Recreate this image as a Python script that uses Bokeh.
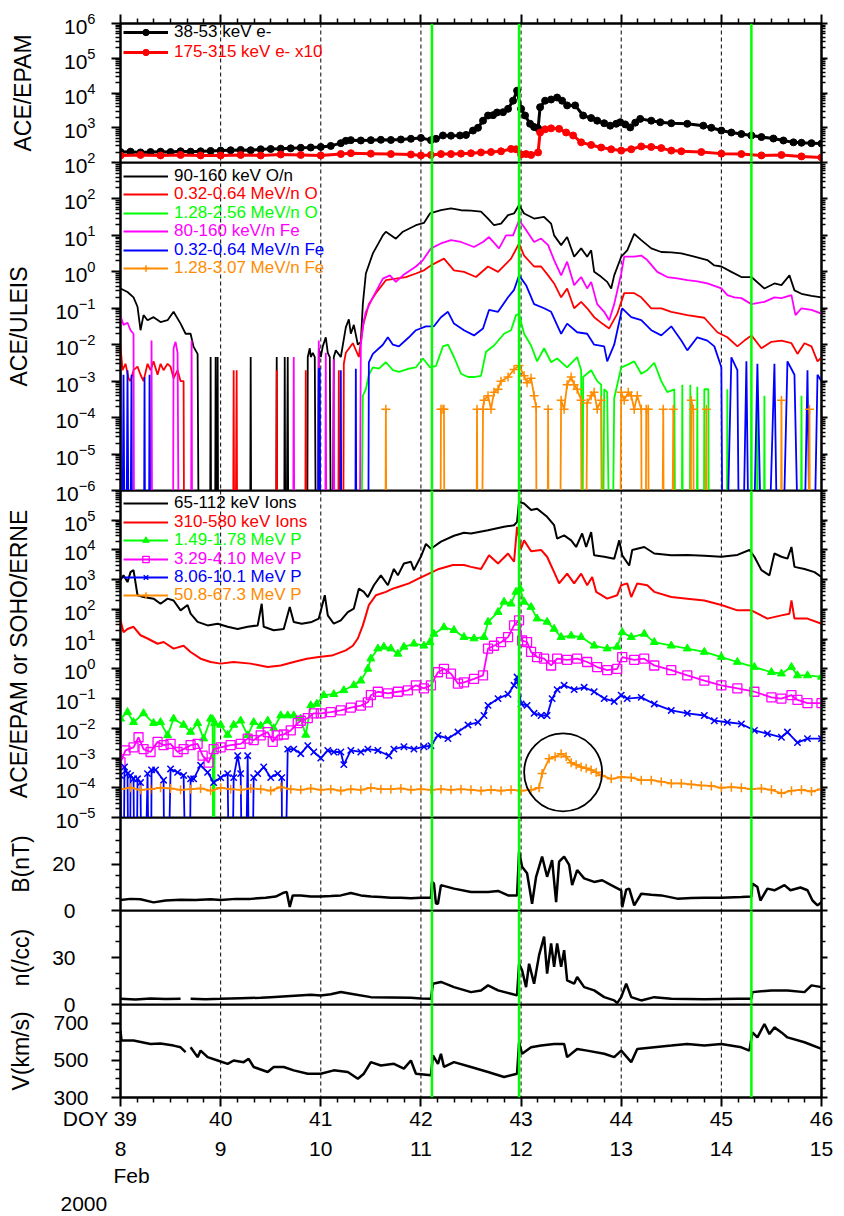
from bokeh.plotting import figure
from bokeh.layouts import column
from bokeh.models import (Range1d, LogAxis, LinearAxis, FixedTicker, Span, Legend,
                          LegendItem, Title, CustomJSTickFormatter)
from bokeh.embed import file_html
from bokeh.resources import INLINE

NAN = float("nan")

# ---------------- x axis / event markers ----------------
DOY_TICKS = [39, 40, 41, 42, 43, 44, 45, 46]
FEB_DATES = ["8", "9", "10", "11", "12", "13", "14", "15"]
DASHED_DAYS = [40, 41, 42, 43, 44, 45]
SHOCK_DOY = [42.11, 42.98, 45.30]

# ---------------- panel 1 : ACE/EPAM electrons ----------------
T1_E38 = [39.0, 39.1, 39.2, 39.3, 39.4, 39.5, 39.6, 39.7, 39.8, 39.9,
          40.0, 40.1, 40.2, 40.3, 40.4, 40.5, 40.6, 40.7, 40.8, 40.9,
          41.0, 41.1, 41.2, 41.25, 41.3, 41.4, 41.5, 41.6, 41.7, 41.8, 41.9, 42.0, 42.1,
          42.15, 42.22, 42.3, 42.39, 42.45, 42.52, 42.57, 42.62, 42.67, 42.72, 42.76, 42.82, 42.87, 42.92, 42.96,
          43.0, 43.04, 43.09, 43.13, 43.17, 43.19, 43.24, 43.3, 43.36, 43.41, 43.46, 43.54, 43.62, 43.7, 43.76,
          43.83, 43.89, 43.95, 43.99,
          44.04, 44.09, 44.14, 44.19, 44.3, 44.39, 44.5, 44.66, 44.82, 44.9,
          45.0, 45.1, 45.2, 45.3, 45.4, 45.52, 45.62, 45.72, 45.8, 45.9, 46.0]
V1_E38 = [200, 205, 195, 200, 205, 200, 210, 205, 210, 215,
          220, 225, 230, 225, 240, 245, 250, 255, 265, 270,
          280, 300, 360, 420, 440, 430, 440, 450, 445, 460, 480, 510, 440,
          480, 600, 590, 600, 620, 830, 1000, 1600, 2250, 2300, 2750, 2800, 3500, 6000, 11700,
          3500, 2250, 1300, 1050, 960, 3900, 6000, 6500, 7400, 6000, 4400, 4400, 2250, 1900, 1600,
          1350, 1150, 1300, 1440,
          1250, 1020, 1400, 1800, 1600, 1440, 1350, 1300, 1150, 1000,
          830, 730, 660, 600, 540, 490, 430, 380, 370, 360, 350]
T1_E175 = [39.0, 39.2, 39.4, 39.6, 39.8, 40.0, 40.2, 40.4, 40.6, 40.8,
           41.0, 41.2, 41.3, 41.5, 41.7, 41.9,
           42.0, 42.1, 42.2, 42.3, 42.4, 42.5, 42.6, 42.7, 42.8, 42.9, 42.95,
           43.0, 43.05, 43.1, 43.17, 43.19, 43.24, 43.3, 43.38, 43.45, 43.52, 43.6, 43.7, 43.8, 43.9,
           44.0, 44.1, 44.2, 44.3, 44.4, 44.5, 44.6, 44.8,
           45.0, 45.2, 45.4, 45.6, 45.8, 46.0]
V1_E175 = [160, 165, 160, 165, 160, 160, 165, 160, 170, 165,
           160, 175, 185, 180, 175, 170,
           160, 165, 175, 175, 180, 185, 195, 200, 210, 245, 240,
           170, 175, 165, 195, 730, 900, 960, 930, 730, 600, 380, 320, 270, 240,
           220, 240, 290, 280, 260, 220, 210, 200,
           180, 175, 160, 165, 150, 140]

# ---------------- panel 2 : ACE/ULEIS (0 = no counts) ----------------
T2_O90 = [39.00, 39.07, 39.13, 39.17, 39.20, 39.23, 39.27, 39.33, 39.40, 39.47, 39.53, 39.60, 39.65, 39.70, 39.73, 39.77, 39.79,
          39.89, 39.90, 39.91, 39.94, 39.95, 39.96, 39.97, 39.98,
          40.29, 40.30, 40.31, 40.55, 40.56, 40.57, 40.63, 40.64, 40.65, 40.67, 40.68,
          40.86, 40.87, 40.89, 40.90, 40.92, 40.94, 40.96, 40.98, 41.00, 41.02, 41.05, 41.07, 41.09, 41.11, 41.13, 41.15, 41.20, 41.25, 41.28, 41.30, 41.33, 41.37, 41.40,
          41.42, 41.45, 41.52, 41.62, 41.65, 41.75, 41.82, 41.95, 42.03, 42.09, 42.20, 42.30, 42.40, 42.50, 42.60, 42.67, 42.73, 42.80, 42.87, 42.93, 42.98,
          43.03, 43.13, 43.23, 43.30, 43.33, 43.40, 43.46, 43.53, 43.60, 43.66, 43.70, 43.73, 43.80, 43.86, 43.90, 43.93,
          44.00, 44.06, 44.13, 44.20, 44.30, 44.40, 44.50, 44.60, 44.73, 44.86, 44.93,
          45.00, 45.10, 45.20, 45.30, 45.43, 45.53, 45.60, 45.68, 45.73, 45.80, 45.90, 46.00]
V2_O90 = [0.35, 0.28, 0.2, 0.11, 0.025, 0.065, 0.047, 0.057, 0.042, 0.047, 0.08, 0.038, 0.02, 0.02, 0.0087, 0.0056, 0,
          0, 0.0046, 0, 0, 0.0046, 0, 0.0046, 0,
          0, 0.0046, 0, 0, 0.0046, 0, 0, 0.0046, 0, 0.0046, 0,
          0, 0.0046, 0.008, 0.0046, 0.006, 0.0046, 0, 0.008, 0.0046, 0.009, 0.016, 0.006, 0.0046, 0, 0.0046, 0.007, 0.0046, 0.03, 0.05, 0.02, 0.035, 0.01, 0.012,
          0.13, 0.9, 3.2, 10, 12.6, 8.1, 12.6, 19, 22, 40, 49, 55, 49, 48, 45, 29, 19, 21, 36, 40, 68,
          40, 29, 32, 21, 10, 5.4, 9, 2.6, 4.4, 2.6, 3.9, 1.0, 0.73, 0.53, 0.35, 0.8,
          2.6, 3.9, 11, 7.4, 4.4, 3.5, 3.4, 3.2, 2.6, 2.1, 1.5,
          1.4, 1.0, 0.72, 0.72, 0.35, 0.48, 0.43, 0.8, 0.31, 0.25, 0.22, 0.2]
T2_O320 = [39.00, 39.02, 39.05, 39.08, 39.10, 39.13, 39.17, 39.20, 39.23, 39.27, 39.30, 39.33, 39.37, 39.40, 39.43, 39.47, 39.50, 39.53, 39.57, 39.60, 39.63, 39.64,
           40.12, 40.13, 40.14, 40.16, 40.17, 40.55, 40.56, 40.57, 40.84, 40.85, 40.86, 41.17, 41.18, 41.19,
           41.22, 41.23, 41.25, 41.32, 41.38, 41.42, 41.48, 41.55, 41.65, 41.75, 41.85, 41.95, 42.03, 42.10, 42.23, 42.33, 42.43, 42.55, 42.67, 42.77, 42.90, 42.98,
           43.03, 43.13, 43.20, 43.27, 43.33, 43.40, 43.46, 43.53, 43.60, 43.66, 43.73, 43.81, 43.88, 43.96,
           44.03, 44.13, 44.20, 44.30, 44.40, 44.50, 44.66, 44.83, 44.96,
           45.06, 45.16, 45.23, 45.30, 45.40, 45.50, 45.60, 45.70, 45.76, 45.83, 45.90, 45.96, 46.00]
V2_O320 = [0.009, 0.002, 0.003, 0.0012, 0.001, 0.002, 0.0025, 0.0015, 0.001, 0.003, 0.002, 0.0035, 0.0015, 0.003, 0.002, 0.003, 0.0025, 0.0012, 0.002, 0.001, 0.001, 0,
           0, 0.002, 0, 0.002, 0, 0, 0.002, 0, 0, 0.002, 0, 0, 0.002, 0,
           0, 0.003, 0.006, 0.011, 0.0046, 0.032, 0.13, 0.26, 0.59, 0.65, 0.72, 0.9, 1.1, 1.5, 2.3, 1.1, 1.0, 0.72, 1.4, 1.0, 2.3, 6,
           2.8, 1.4, 1.4, 0.8, 0.48, 0.2, 0.35, 0.1, 0.15, 0.1, 0.057, 0.038, 0.028, 0.07,
           0.26, 0.26, 0.2, 0.1, 0.1, 0.08, 0.065, 0.055, 0.022,
           0.016, 0.009, 0.013, 0.018, 0.008, 0.012, 0.013, 0.011, 0.0056, 0.011, 0.009, 0.0035, 0.0045]
T2_O128 = [40.97, 40.98, 40.99, 41.39, 41.42, 41.45, 41.48, 41.52, 41.58, 41.65, 41.72, 41.78, 41.88, 41.95, 42.02, 42.09, 42.15, 42.22, 42.27, 42.33, 42.40, 42.47, 42.53, 42.60, 42.65, 42.73, 42.83, 42.90, 42.95, 42.98,
           43.03, 43.10, 43.16, 43.23, 43.30, 43.36, 43.46, 43.56, 43.60, 43.61, 43.62, 43.70, 43.76, 43.80, 43.81, 43.83, 43.86, 43.90, 43.93,
           44.00, 44.06, 44.13, 44.20, 44.26, 44.33, 44.40, 44.46, 44.53, 44.55,
           44.60, 44.61, 44.62, 44.68, 44.69, 44.70, 44.75, 44.76, 44.77, 44.82, 44.83, 44.87, 44.88,
           45.05, 45.06, 45.07, 45.35, 45.36, 45.37, 45.42, 45.43, 45.44, 45.79, 45.80, 45.81]
V2_O128 = [0, 0.0005, 0, 0, 0.0004, 0.0006, 0.0015, 0.0024, 0.0022, 0.0033, 0.002, 0.0018, 0.0022, 0.0024, 0.0042, 0.0024, 0.0026, 0.009, 0.01, 0.0046, 0.0016, 0.0013, 0.0013, 0.0014, 0.0064, 0.0095, 0.02, 0.025, 0.065, 0.07,
           0.02, 0.0095, 0.0035, 0.008, 0.0033, 0.0042, 0.0024, 0.0046, 0.002, 0, 0.0013, 0.002, 0.001, 0.0008, 0, 0.0006, 0.0005, 0, 0.00034,
           0.0024, 0.0028, 0.0035, 0.0016, 0.002, 0.0032, 0.001, 0.0005, 0.0006, 0,
           0, 0.0008, 0, 0, 0.0008, 0, 0, 0.0007, 0, 0, 0.0006, 0.0006, 0,
           0, 0.0006, 0, 0, 0.0004, 0, 0, 0.0004, 0, 0, 0.0004, 0]
T2_FE80 = [39.00, 39.03, 39.07, 39.10, 39.13, 39.14, 39.30, 39.31, 39.32, 39.52, 39.53, 39.55, 39.57, 39.59, 39.70, 39.71, 39.72,
           40.72, 40.73, 40.74, 40.97, 40.98, 40.99, 41.04, 41.05, 41.06, 41.12, 41.13, 41.14,
           41.38, 41.40, 41.43, 41.45, 41.52, 41.62, 41.69, 41.75, 41.82, 41.95, 42.02, 42.10, 42.20, 42.30, 42.40, 42.53, 42.62, 42.68, 42.78, 42.85, 42.92, 42.98,
           43.03, 43.13, 43.20, 43.27, 43.33, 43.40, 43.46, 43.53, 43.60, 43.66, 43.70, 43.76, 43.83, 43.88, 43.93,
           44.00, 44.03, 44.13, 44.20, 44.26, 44.36, 44.46, 44.56, 44.66, 44.76, 44.86,
           45.00, 45.06, 45.13, 45.20, 45.30, 45.43, 45.53, 45.60, 45.70, 45.74, 45.80, 45.90, 46.00]
V2_FE80 = [0.06, 0.035, 0.04, 0.025, 0.02, 0, 0, 0.013, 0, 0, 0.008, 0.012, 0.006, 0, 0, 0.013, 0,
           0, 0.0046, 0, 0, 0.013, 0, 0, 0.006, 0, 0, 0.004, 0,
           0, 0.01, 0.047, 0.08, 0.2, 0.65, 0.8, 0.53, 0.8, 1.4, 2.1, 4.4, 6, 7.4, 6.6, 4.8, 6.6, 9, 4.4, 10, 10, 26,
           17, 6.6, 8.2, 5.4, 2.1, 0.8, 1.9, 0.43, 0.72, 0.35, 0.53, 0.13, 0.08, 0.047, 0.13,
           0.9, 2.6, 2.6, 2.8, 2.1, 1.0, 0.72, 0.66, 0.59, 0.55, 0.48,
           0.35, 0.23, 0.2, 0.19, 0.13, 0.15, 0.2, 0.19, 0.23, 0.065, 0.1, 0.09, 0.071]
T2_FE320 = [39.00, 39.01, 39.03, 39.05, 39.07, 39.09, 39.11, 39.12, 39.23, 39.24, 39.25, 39.28, 39.29, 39.30,
            40.97, 40.98, 40.99, 41.00, 41.19, 41.20, 41.21, 41.34, 41.35, 41.36,
            41.47, 41.48, 41.52, 41.62, 41.67, 41.72, 41.78, 41.88, 41.95, 42.05, 42.13, 42.20, 42.27, 42.33, 42.43, 42.53, 42.62, 42.68, 42.77, 42.87, 42.93, 42.98,
            43.05, 43.13, 43.23, 43.30, 43.40, 43.46, 43.56, 43.66, 43.73, 43.83, 43.86, 43.93,
            44.01, 44.10, 44.20, 44.30, 44.40, 44.50, 44.60, 44.66, 44.76, 44.86, 44.93,
            45.00, 45.02, 45.10, 45.16, 45.19, 45.25, 45.29, 45.36, 45.43, 45.53, 45.58, 45.66, 45.73, 45.80, 45.86, 45.90, 45.96, 46.00]
V2_FE320 = [0.002, 0, 0.0015, 0, 0.002, 0, 0.0015, 0, 0, 0.0013, 0, 0, 0.0015, 0,
            0, 0.0022, 0.0022, 0, 0, 0.002, 0, 0, 0.0022, 0,
            0, 0.0033, 0.0056, 0.01, 0.016, 0.01, 0.009, 0.016, 0.025, 0.032, 0.032, 0.057, 0.08, 0.038, 0.025, 0.018, 0.028, 0.09, 0.08, 0.2, 0.32, 0.8,
            0.43, 0.13, 0.1, 0.08, 0.02, 0.038, 0.022, 0.02, 0.01, 0.009, 0.0035, 0.01,
            0.1, 0.057, 0.047, 0.025, 0.018, 0.032, 0.013, 0.007, 0.016, 0.013, 0.009,
            0.0024, 0, 0.0045, 0.002, 0, 0.0035, 0, 0.003, 0, 0.003, 0, 0.0035, 0.0015, 0, 0.002, 0, 0.0015, 0.001]
T2_FE128 = [41.64, 41.65, 41.66, 42.19, 42.20, 42.22, 42.23, 42.24, 42.55, 42.56, 42.57,
            42.60, 42.62, 42.63, 42.67, 42.70, 42.73, 42.77, 42.80, 42.87, 42.93, 42.98, 43.03, 43.06, 43.10, 43.13, 43.15, 43.16,
            43.26, 43.27, 43.28, 43.38, 43.40, 43.43, 43.46, 43.50, 43.53, 43.56, 43.60, 43.62,
            43.64, 43.66, 43.70, 43.73, 43.76, 43.80, 43.83,
            43.98, 44.00, 44.03, 44.07, 44.10, 44.13, 44.16, 44.20, 44.21,
            44.24, 44.25, 44.27, 44.28, 44.40, 44.42, 44.43, 44.50, 44.52, 44.53, 44.68, 44.70, 44.72, 44.73, 44.83, 44.85, 44.86,
            45.59, 45.60, 45.61, 45.86, 45.88, 45.89]
V2_FE128 = [0, 0.00017, 0, 0, 0.00017, 0.00017, 0.00017, 0, 0, 0.00017, 0,
            0, 0.00017, 0.0003, 0.0004, 0.00017, 0.0005, 0.0006, 0.001, 0.0013, 0.0021, 0.0027, 0.0014, 0.0009, 0.0012, 0.0004, 0.0002, 0,
            0, 0.00017, 0, 0, 0.0003, 0.00017, 0.0008, 0.0013, 0.0008, 0.0006, 0.0003, 0,
            0, 0.00025, 0.0004, 0.0005, 0.00017, 0.0003, 0,
            0, 0.0005, 0.0003, 0.0005, 0.0004, 0.00017, 0.0004, 0.00017, 0,
            0, 0.00017, 0.00017, 0, 0, 0.00017, 0, 0, 0.00017, 0, 0, 0.0003, 0.00017, 0, 0, 0.00017, 0,
            0, 0.0003, 0, 0, 0.00017, 0]

# ---------------- panel 3 : ACE/EPAM ions, SOHO/ERNE protons ----------------
T3_I65 = [39.0, 39.03, 39.07, 39.1, 39.13, 39.17, 39.23, 39.33, 39.4, 39.47, 39.53, 39.6, 39.67, 39.7, 39.77, 39.87, 39.97,
          40.07, 40.17, 40.27, 40.37, 40.41, 40.43, 40.53, 40.63, 40.69, 40.73, 40.81, 40.91, 40.98,
          41.04, 41.07, 41.13, 41.2, 41.27, 41.33, 41.38, 41.43, 41.47, 41.53, 41.6, 41.67, 41.73, 41.77, 41.83, 41.9, 41.93,
          42.0, 42.05, 42.1, 42.2, 42.33, 42.43, 42.5, 42.67, 42.83, 42.93, 42.96, 42.98,
          43.03, 43.1, 43.16, 43.26, 43.33, 43.36, 43.43, 43.5, 43.55, 43.61, 43.65, 43.7, 43.73, 43.83, 43.93, 43.98,
          44.01, 44.08, 44.11, 44.23, 44.33, 44.5, 44.66, 44.83,
          45.0, 45.16, 45.28, 45.33, 45.4, 45.48, 45.53, 45.6, 45.66, 45.7, 45.73, 45.83, 45.93, 46.0]
V3_I65 = [950, 1400, 830, 1800, 2100, 300, 260, 230, 155, 230, 200, 93, 140, 72, 38, 29, 33,
          26, 22, 26, 29, 155, 26, 20, 22, 120, 38, 33, 38, 49,
          300, 63, 33, 43, 81, 107, 500, 390, 260, 650, 1400, 650, 2300, 1400, 3500, 4000, 2100,
          6000, 16000, 11000, 19000, 30000, 38000, 36000, 46000, 60000, 68000, 88000, 420000,
          365000, 220000, 245000, 130000, 68000, 24000, 31000, 21000, 12600, 36000, 12600, 40000, 6600, 5900, 5100, 21000,
          6600, 3000, 10000, 12600, 7600, 6600, 6800, 6400,
          5900, 6800, 10000, 5900, 2100, 1400, 7600, 5900, 5100, 12600, 2700, 2300, 1800, 1230]
T3_I310 = [39.0, 39.03, 39.07, 39.13, 39.2, 39.27, 39.37, 39.43, 39.53, 39.63, 39.7, 39.8, 39.9,
           40.0, 40.13, 40.3, 40.47, 40.6, 40.73, 40.86, 40.98,
           41.11, 41.25, 41.32, 41.37, 41.42, 41.45, 41.48, 41.55, 41.65, 41.72, 41.78, 41.88, 41.98,
           42.08, 42.18, 42.32, 42.43, 42.5, 42.6, 42.68, 42.77, 42.87, 42.93, 42.96,
           43.0, 43.03, 43.1, 43.2, 43.26, 43.33, 43.38, 43.46, 43.53, 43.6, 43.66, 43.71, 43.75, 43.86, 43.96,
           44.0, 44.06, 44.1, 44.16, 44.26, 44.33, 44.5, 44.66, 44.83,
           45.0, 45.16, 45.3, 45.46, 45.6, 45.68, 45.7, 45.73, 45.86, 46.0]
V3_I310 = [43, 17, 22, 26, 13.5, 10.5, 7, 8, 4.8, 6, 3.7, 2.2, 1.7,
           1.5, 1.7, 1.5, 1.15, 1.3, 1.7, 2.2, 2.5,
           2.8, 4.2, 6, 10.5, 29, 63, 140, 300, 390, 500, 580, 750, 1100,
           1600, 2300, 3100, 3100, 2700, 2300, 6600, 3500, 7600, 4000, 60000,
           11000, 21000, 9000, 10000, 5900, 1800, 750, 1600, 750, 1600, 650, 1230, 390, 230, 300,
           650, 750, 260, 750, 650, 390, 260, 230, 200,
           140, 93, 93, 49, 63, 72, 200, 49, 49, 33]
T3_P149 = [39.0, 39.07, 39.13, 39.23, 39.33, 39.4, 39.47, 39.53, 39.63, 39.7, 39.77, 39.83, 39.9, 39.92, 39.93, 39.94,
           40.0, 40.07, 40.13, 40.2, 40.27, 40.33, 40.4, 40.47, 40.53, 40.6, 40.67, 40.73, 40.8, 40.85, 40.9, 40.96,
           41.03, 41.13, 41.23, 41.33, 41.4, 41.47, 41.5, 41.57, 41.63, 41.7, 41.77, 41.83, 41.93,
           42.03, 42.09, 42.13, 42.23, 42.33, 42.43, 42.53, 42.63, 42.67, 42.77, 42.83, 42.9, 42.95, 42.99,
           43.03, 43.1, 43.16, 43.26, 43.33, 43.4, 43.5, 43.6, 43.73, 43.86, 43.96,
           44.01, 44.1, 44.23, 44.33, 44.5, 44.66, 44.83,
           45.0, 45.16, 45.33, 45.5, 45.6, 45.7, 45.76, 45.86, 46.0]
V3_P149 = [0.021, 0.035, 0.016, 0.032, 0.015, 0.016, 0.0058, 0.021, 0.013, 0.0075, 0.015, 0.0045, 0.021, 0.02, 0, 0.015,
           0.013, 0.006, 0.013, 0.018, 0.0058, 0.016, 0.012, 0.018, 0.01, 0.027, 0.027, 0.027, 0.021, 0.006, 0.059, 0.066,
           0.13, 0.14, 0.19, 0.28, 0.4, 1.0, 2.2, 4.8, 5.5, 4.8, 3.2, 5.5, 7,
           6, 7.9, 15, 25, 20, 11.7, 10.5, 11.7, 38, 81, 180, 155, 390, 500,
           180, 120, 49, 38, 22, 11.7, 13, 11.7, 6, 4.8, 5.5,
           17, 11.7, 15, 7.9, 6, 4.8, 3.7,
           2.5, 1.7, 1.15, 0.77, 0.69, 1.15, 0.6, 0.6, 0.54]
T3_P329 = [39.0, 39.05, 39.13, 39.18, 39.23, 39.3, 39.37, 39.43, 39.5, 39.57, 39.63, 39.7, 39.77, 39.82, 39.88, 39.93,
           40.0, 40.1, 40.2, 40.27, 40.33, 40.4, 40.47, 40.52, 40.57, 40.63, 40.7, 40.77, 40.8, 40.87, 40.93,
           41.0, 41.1, 41.2, 41.3, 41.4, 41.47, 41.5, 41.57, 41.67, 41.77, 41.87, 41.95,
           42.03, 42.1, 42.17, 42.23, 42.3, 42.37, 42.43, 42.53, 42.62, 42.67, 42.73, 42.8, 42.87, 42.93, 42.98,
           43.01, 43.06, 43.1, 43.16, 43.23, 43.3, 43.36, 43.46, 43.56, 43.66, 43.76, 43.86, 43.96,
           44.01, 44.13, 44.23, 44.33, 44.5, 44.66, 44.83,
           45.0, 45.16, 45.33, 45.5, 45.6, 45.7, 45.76, 45.86, 46.0]
V3_P329 = [0.00072, 0.0018, 0.0023, 0.005, 0.002, 0.0016, 0.0035, 0.0027, 0.003, 0.0016, 0.002, 0.0027, 0.003, 0.0012, 0.0007, 0.002,
           0.0023, 0.0027, 0.003, 0.0045, 0.004, 0.0058, 0.0075, 0.0035, 0.0058, 0.0062, 0.0085, 0.015, 0.018, 0.022, 0.032,
           0.032, 0.035, 0.04, 0.05, 0.058, 0.075, 0.13, 0.17, 0.15, 0.17, 0.19, 0.28,
           0.22, 0.28, 0.77, 1.0, 0.69, 0.32, 0.35, 0.46, 0.6, 4.8, 6, 7.9, 11.7, 29, 43,
           9, 7.9, 3.7, 2.5, 2.2, 1.3, 2.2, 2.0, 2.2, 1.7, 1.15, 0.9, 1.0,
           2.5, 2.0, 2.2, 1.3, 0.9, 0.6, 0.4,
           0.28, 0.22, 0.17, 0.11, 0.1, 0.13, 0.09, 0.07, 0.07]
T3_P806 = [39.0, 39.02, 39.04, 39.07, 39.09, 39.1, 39.13, 39.15, 39.17, 39.2, 39.22, 39.27, 39.3, 39.31, 39.35, 39.43, 39.45,
           39.5, 39.57, 39.63, 39.68, 39.7, 39.73, 39.8, 39.87, 39.93,
           40.0, 40.07, 40.1, 40.13, 40.17, 40.2, 40.23, 40.27, 40.3, 40.33, 40.37, 40.43, 40.5, 40.57, 40.61, 40.62,
           40.67, 40.73, 40.8, 40.87, 40.93, 41.0, 41.07, 41.13, 41.2, 41.23, 41.3, 41.4, 41.47, 41.57, 41.68, 41.73, 41.83, 41.93,
           42.03, 42.1, 42.17, 42.27, 42.37, 42.47, 42.57, 42.63, 42.67, 42.77, 42.87, 42.93, 42.96,
           43.0, 43.06, 43.13, 43.2, 43.26, 43.31, 43.36, 43.43, 43.53, 43.63, 43.73, 43.83, 43.93,
           44.0, 44.06, 44.2, 44.33, 44.5, 44.66, 44.83, 44.93,
           45.06, 45.2, 45.33, 45.46, 45.6, 45.66, 45.76, 45.86, 46.0]
V3_P806 = [0.00026, 0, 0.0005, 0.0003, 0, 0.00026, 0.0002, 0, 0.0002, 0.00015, 0, 0.0003, 0, 0.0004, 0.0004, 0.00018, 0,
           0.00043, 0.00033, 0.00026, 0, 0.0002, 0.0002, 0.00057, 0.00033, 0.00015,
           0.00022, 0.0003, 0, 0.00022, 0.0012, 0.0003, 0, 0.0012, 0, 0.00022, 0.0003, 0.0005, 0.00022, 0.0003, 0.00022, 0,
           0.002, 0.002, 0.0014, 0.0026, 0.0016, 0.001, 0.0018, 0.0016, 0.0016, 0.0006, 0.0018, 0.0016, 0.002, 0.0018, 0.0012, 0.002, 0.0024, 0.002,
           0.0024, 0.0026, 0.0058, 0.0045, 0.0075, 0.013, 0.016, 0.027, 0.059, 0.1, 0.14, 0.28, 0.53,
           0.066, 0.059, 0.032, 0.027, 0.027, 0.1, 0.2, 0.28, 0.2, 0.24, 0.17, 0.1, 0.08,
           0.13, 0.1, 0.11, 0.066, 0.04, 0.032, 0.027, 0.018,
           0.016, 0.014, 0.0085, 0.0066, 0.005, 0.0075, 0.0033, 0.0045, 0.0045]
T3_P508 = [39.0, 39.1, 39.2, 39.3, 39.4, 39.5, 39.6, 39.7, 39.8, 39.9,
           40.0, 40.1, 40.2, 40.3, 40.4, 40.5, 40.6, 40.7, 40.8, 40.9,
           41.0, 41.1, 41.2, 41.3, 41.4, 41.5, 41.6, 41.7, 41.8, 41.9,
           42.0, 42.1, 42.2, 42.3, 42.4, 42.5, 42.6, 42.7, 42.8, 42.9,
           43.0, 43.1, 43.18, 43.21, 43.28, 43.34, 43.4, 43.45, 43.5, 43.55, 43.6, 43.65, 43.7, 43.75, 43.8, 43.9,
           44.0, 44.1, 44.2, 44.3, 44.4, 44.5, 44.6, 44.7, 44.8, 44.9,
           45.0, 45.1, 45.2, 45.3, 45.4, 45.5, 45.6, 45.7, 45.8, 45.9, 46.0]
V3_P508 = [9e-5, 1e-4, 8.5e-5, 9e-5, 1e-4, 9.5e-5, 8.5e-5, 9e-5, 9.5e-5, 8e-5,
           1e-4, 9e-5, 8.5e-5, 9.5e-5, 9e-5, 8e-5, 1.05e-4, 9e-5, 8.5e-5, 9.5e-5,
           8.5e-5, 9e-5, 8e-5, 9e-5, 8.5e-5, 1e-4, 9e-5, 9e-5, 9.5e-5, 8.5e-5,
           9e-5, 8.5e-5, 9e-5, 8.5e-5, 9e-5, 8.5e-5, 8e-5, 8.5e-5, 8e-5, 8.5e-5,
           8e-5, 8.5e-5, 1e-4, 3e-4, 9.5e-4, 1.1e-3, 1.4e-3, 1.1e-3, 7e-4, 6e-4, 5e-4, 4.5e-4, 4e-4, 3.3e-4, 2.6e-4, 2e-4,
           2.3e-4, 2.2e-4, 1.8e-4, 1.8e-4, 1.6e-4, 1.4e-4, 1.4e-4, 1.3e-4, 1.2e-4, 1.15e-4,
           1e-4, 1.05e-4, 1e-4, 9e-5, 9.5e-5, 8.5e-5, 6.5e-5, 8e-5, 8.5e-5, 7.5e-5, 9e-5]
CIRCLE_T = [43.42]
CIRCLE_V = [3.3e-4]

# ---------------- panels 4-6 : solar wind ----------------
T4_B = [39.0, 39.1, 39.2, 39.33, 39.45, 39.6, 39.75, 39.9, 40.0, 40.15, 40.3, 40.45, 40.55, 40.62, 40.66, 40.69, 40.72, 40.8, 40.9,
        41.0, 41.1, 41.2, 41.3, 41.4, 41.5, 41.6, 41.7, 41.8, 41.9, 42.0, 42.1, 42.11, 42.13, 42.15, 42.17, 42.2, 42.33, 42.5,
        42.67, 42.77, 42.87, 42.96, 42.98, 43.01, 43.06, 43.11, 43.15, 43.21, 43.26, 43.31, 43.35, 43.38, 43.43, 43.48, 43.51,
        43.56, 43.63, 43.73, 43.81, 43.9, 44.0, 44.01, 44.05, 44.08, 44.13, 44.2, 44.3, 44.4, 44.56, 44.7, 44.83,
        45.0, 45.2, 45.3, 45.31, 45.36, 45.39, 45.46, 45.53, 45.63, 45.69, 45.79, 45.86, 45.91, 45.96, 46.0]
V4_B = [4.5, 5, 4.8, 3.5, 4.3, 4.6, 4.5, 4.8, 4.5, 5, 5, 5.5, 6, 7.5, 8, 1.5, 6.5, 6.5, 6,
        6, 6.2, 6.5, 7.5, 6.5, 6, 5.8, 5.5, 5.5, 5.3, 5.5, 5.5, 12.3, 11.6, 3, 2.9, 10.9, 9.4, 8,
        8, 8.4, 6.5, 6.5, 25.4, 18.8, 16, 2.9, 14.5, 23.2, 14.5, 21.7, 3.6, 21, 23.2, 19.6, 10.9,
        17.4, 13.8, 12.3, 13, 10.9, 8.7, 1.4, 9, 9.4, 2.2, 7.2, 6.8, 6.5, 5.1, 5.4, 5.5,
        5.5, 5.8, 6, 11.6, 10.1, 4.3, 9.4, 8.7, 10.9, 8.7, 9.9, 8.7, 4.3, 2.2, 3.6]
T5_N = [39.0, 39.15, 39.3, 39.45, 39.6, 39.65, 39.7, 39.85, 40.0, 40.2, 40.4, 40.5, 40.7, 40.9,
        41.0, 41.1, 41.2, 41.3, 41.5, 41.7, 41.9, 42.0, 42.1, 42.12, 42.2, 42.33, 42.5, 42.6, 42.67, 42.77, 42.9, 42.96,
        42.98, 43.01, 43.05, 43.08, 43.13, 43.18, 43.23, 43.26, 43.3, 43.33, 43.36, 43.4, 43.43, 43.46, 43.53, 43.56,
        43.63, 43.73, 43.83, 43.93, 43.96, 44.0, 44.05, 44.1, 44.2, 44.33, 44.5, 44.83,
        45.16, 45.3, 45.31, 45.5, 45.66, 45.83, 45.9, 46.0]
V5_N = [3.6, 3.2, 3.8, 3.5, 3.7, NAN, 3.6, 3.4, 3.6, 4, 4.3, 4.7, 5.5, 6.2,
        5.8, 6.5, 8, 6.9, 4.7, 4.5, 4.3, 3.8, 3.6, 13.3, 14.4, 11.1, 7.9, 9, 12.2, 9, 6.9, 5.8,
        26, 21.9, 11.1, 26, 13.3, 31.5, 43.3, 19.7, 39, 24, 39, 24, 34.7, 15.4, 13.3, 17.6,
        11.1, 9, 4.7, 2.6, 0.9, 4.7, 13.3, 4.7, 2.6, 4.7, 3.6, 3.4,
        3.6, 3.6, 7.9, 9, 9, 7.9, 12.2, 11.1]
T6_V = [39.0, 39.01, 39.13, 39.3, 39.4, 39.53, 39.6, 39.65, 39.67, 39.7, 39.77, 39.8, 39.87, 39.97,
        40.07, 40.13, 40.23, 40.28, 40.33, 40.47, 40.53, 40.63, 40.73, 40.87,
        41.0, 41.13, 41.27, 41.37, 41.43, 41.5, 41.6, 41.73, 41.83, 41.9, 41.95,
        42.1, 42.12, 42.17, 42.2, 42.23, 42.33, 42.5, 42.67, 42.83, 42.96, 42.98,
        43.01, 43.1, 43.2, 43.33, 43.43, 43.46, 43.56, 43.66, 43.83, 43.93,
        44.0, 44.1, 44.16, 44.33, 44.5, 44.66, 44.83,
        45.0, 45.2, 45.28, 45.31, 45.36, 45.43, 45.48, 45.53, 45.6, 45.66, 45.83, 46.0]
V6_V = [659, 606, 606, 588, 590, 579, 570, 544, NAN, 570, 517, 552, 517, 499,
        481, 499, 490, 508, 464, 437, 464, 464, 446, 428,
        428, 446, 437, 401, 428, 490, 472, 481, 455, 499, 428,
        419, 526, 481, 535, 464, 490, 464, 437, 410, 428, 597,
        535, 570, 579, 588, 588, 517, 561, 552, 535, 517,
        552, 490, 561, 570, 579, 588, 580,
        588, 570, 552, 650, 623, 695, 641, 677, 650, 623, 597, 561]

for _t, _v in [(T1_E38, V1_E38), (T1_E175, V1_E175), (T2_O90, V2_O90), (T2_O320, V2_O320),
               (T2_O128, V2_O128), (T2_FE80, V2_FE80), (T2_FE320, V2_FE320), (T2_FE128, V2_FE128),
               (T3_I65, V3_I65), (T3_I310, V3_I310), (T3_P149, V3_P149), (T3_P329, V3_P329),
               (T3_P806, V3_P806), (T3_P508, V3_P508), (T4_B, V4_B), (T5_N, V5_N), (T6_V, V6_V)]:
    assert len(_t) == len(_v), (len(_t), len(_v), _t[0])

# ---------------- styling ----------------
BLACK, RED, GREEN = "#000000", "#ff0000", "#00ff00"
MAGENTA, BLUE, ORANGE = "#ff00ff", "#0000ff", "#ff8c00"
FONT = "Liberation Sans"
LEFT, RIGHT, FW, OV = 120, 23, 701, 14
FLOOR = 1e-12          # zero counts are drawn down out of the log frame
X_RANGE = Range1d(39, 46)
MINOR_X = [39 + k / 6 for k in range(43) if k % 6]
NBSP = "\u00a0"


def pos(vals):
    return [v if v > 0 else FLOOR for v in vals]


def minor_log(a, b):
    return [m * 10.0 ** e for e in range(a, b) for m in range(2, 10)]


def blank():
    return CustomJSTickFormatter(code="return ''")


def style_axis(ax):
    ax.axis_line_color = "black"
    ax.axis_line_width = 2
    ax.major_tick_line_color = "black"
    ax.major_tick_line_width = 2
    ax.minor_tick_line_color = "black"
    ax.minor_tick_line_width = 1.5
    ax.major_tick_out = 9
    ax.major_tick_in = 0
    ax.minor_tick_out = 5
    ax.minor_tick_in = 0
    ax.major_label_text_font = FONT
    ax.major_label_text_font_size = "21px"
    ax.major_label_text_color = "black"
    ax.axis_label_text_font = FONT
    ax.axis_label_text_font_size = "23px"
    ax.axis_label_text_font_style = "normal"
    ax.axis_label_text_color = "black"


def make_panel(fh, log, lo, hi, label, major, minor, lab_standoff, ax_standoff, top=0, bottom=OV):
    p = figure(frame_width=FW, frame_height=fh, x_range=X_RANGE, y_range=Range1d(lo, hi),
               y_axis_type="log" if log else "linear", x_axis_location=None,
               output_backend="svg", toolbar_location=None,
               min_border_left=LEFT, min_border_right=RIGHT, min_border_top=top, min_border_bottom=bottom,
               border_fill_color=None, background_fill_color=None,
               outline_line_color="black", outline_line_width=2)
    p.xgrid.visible = False
    p.ygrid.visible = False
    ay = p.yaxis[0]
    ay.ticker = FixedTicker(ticks=major, minor_ticks=minor)
    style_axis(ay)
    ay.axis_label = label
    ay.major_label_standoff = lab_standoff
    ay.axis_label_standoff = ax_standoff
    cls = LogAxis if log else LinearAxis
    ar = cls(ticker=FixedTicker(ticks=major, minor_ticks=minor), formatter=blank())
    style_axis(ar)
    ar.major_label_standoff = 0
    ar.major_label_text_font_size = "1px"
    ar.major_tick_out = 6
    ar.minor_tick_out = 4
    p.add_layout(ar, "right")
    for d in DASHED_DAYS:
        p.add_layout(Span(location=d, dimension="height", line_color="black",
                          line_width=1, line_dash="4 3", level="underlay"))
    for s in SHOCK_DOY:
        p.add_layout(Span(location=s, dimension="height", line_color=GREEN, line_width=2.5))
    return p


def add_key(p, renderers, text, color, vy):
    lg = Legend(items=[LegendItem(label=text, renderers=renderers)], location=(3, vy),
                label_text_color=color, label_text_font=FONT, label_text_font_size="17px",
                glyph_width=45, glyph_height=16, label_height=17, label_standoff=6,
                padding=0, margin=0, spacing=0, border_line_color=None,
                background_fill_alpha=0)
    p.add_layout(lg)


# ---------------- panel 1 ----------------
p1 = make_panel(139, True, 1e2, 1e6, "ACE/EPAM", [10.0 ** e for e in range(2, 7)],
                minor_log(2, 6), 16, 25, top=23)
ta = LinearAxis(ticker=FixedTicker(ticks=DOY_TICKS, minor_ticks=MINOR_X), formatter=blank())
style_axis(ta)
ta.major_label_text_font_size = "1px"
ta.major_label_standoff = 0
p1.add_layout(ta, "above")
for t, v, c, name, vy in [(T1_E38, V1_E38, BLACK, "38-53 keV e-", 120),
                          (T1_E175, V1_E175, RED, "175-315 keV e- x10", 100)]:
    rl = p1.line(t, v, line_color=c, line_width=3)
    rs = p1.scatter(t, v, marker="circle", size=7, color=c)
    add_key(p1, [rl, rs], name, c, vy)

# ---------------- panel 2 ----------------
p2 = make_panel(328, True, 1e-6, 1e3, "ACE/ULEIS", [10.0 ** e for e in range(-6, 3)],
                minor_log(-6, 3), 16, 20)
for t, v, c, name, vy in [(T2_O90, V2_O90, BLACK, "90-160 keV O/n", 304),
                          (T2_O320, V2_O320, RED, "0.32-0.64 MeV/n O", 286),
                          (T2_O128, V2_O128, GREEN, "1.28-2.56 MeV/n O", 267),
                          (T2_FE80, V2_FE80, MAGENTA, "80-160 keV/n Fe", 249),
                          (T2_FE320, V2_FE320, BLUE, "0.32-0.64 MeV/n Fe", 230)]:
    rl = p2.line(t, pos(v), line_color=c, line_width=1.8)
    add_key(p2, [rl], name, c, vy)
rl = p2.line(T2_FE128, pos(V2_FE128), line_color=ORANGE, line_width=1.8)
rs = p2.scatter(T2_FE128, pos(V2_FE128), marker="cross", size=9, line_color=ORANGE, line_width=1.5)
add_key(p2, [rl, rs], "1.28-3.07 MeV/n Fe", ORANGE, 212)

# ---------------- panel 3 ----------------
p3 = make_panel(327, True, 1e-5, 1e6, "ACE/EPAM or SOHO/ERNE", [10.0 ** e for e in range(-5, 6)],
                minor_log(-5, 6), 16, 20)
rl = p3.line(T3_I65, V3_I65, line_color=BLACK, line_width=2)
add_key(p3, [rl], "65-112 keV Ions", BLACK, 304)
rl = p3.line(T3_I310, V3_I310, line_color=RED, line_width=2)
add_key(p3, [rl], "310-580 keV Ions", RED, 285)
rl = p3.line(T3_P149, pos(V3_P149), line_color=GREEN, line_width=1.8)
rs = p3.scatter(T3_P149, pos(V3_P149), marker="triangle", size=8, color=GREEN)
add_key(p3, [rl, rs], "1.49-1.78 MeV P", GREEN, 267)
rl = p3.line(T3_P329, V3_P329, line_color=MAGENTA, line_width=1.8)
rs = p3.scatter(T3_P329, V3_P329, marker="square", size=9, fill_color=None,
                line_color=MAGENTA, line_width=1.3)
add_key(p3, [rl, rs], "3.29-4.10 MeV P", MAGENTA, 248)
rl = p3.line(T3_P806, pos(V3_P806), line_color=BLUE, line_width=1.8)
rs = p3.scatter(T3_P806, pos(V3_P806), marker="x", size=9, line_color=BLUE, line_width=1.5)
add_key(p3, [rl, rs], "8.06-10.1 MeV P", BLUE, 230)
rl = p3.line(T3_P508, V3_P508, line_color=ORANGE, line_width=1.8)
rs = p3.scatter(T3_P508, V3_P508, marker="cross", size=9, line_color=ORANGE, line_width=1.5)
add_key(p3, [rl, rs], "50.8-67.3 MeV P", ORANGE, 212)
p3.scatter(CIRCLE_T, CIRCLE_V, marker="circle", size=78, fill_color=None,
           line_color="black", line_width=1.8)

# ---------------- panels 4-6 ----------------
p4 = make_panel(93, False, 0, 40, "B(nT)", [0, 20], [5, 10, 15, 25, 30, 35], 36, 15)
p4.line(T4_B, V4_B, line_color=BLACK, line_width=2.5)
p5 = make_panel(94, False, 0, 60, "n(/cc)", [0, 30], [10, 20, 40, 50], 36, 15)
p5.line(T5_N, V5_N, line_color=BLACK, line_width=2.5)
p6 = make_panel(93, False, 300, 800, "V(km/s)", [300, 500, 700],
                [350, 400, 450, 550, 600, 650, 750], 23, 16, bottom=117)
p6.line(T6_V, V6_V, line_color=BLACK, line_width=2.5)

doy_labels = {d: str(d) for d in DOY_TICKS}
doy_labels[DOY_TICKS[0]] = "DOY " + str(DOY_TICKS[0]) + NBSP * 7
xa = LinearAxis(ticker=FixedTicker(ticks=DOY_TICKS, minor_ticks=MINOR_X),
                major_label_overrides=doy_labels)
style_axis(xa)
xa.major_label_standoff = 0
p6.add_layout(xa, "below")
xb = LinearAxis(ticker=FixedTicker(ticks=DOY_TICKS),
                major_label_overrides={d: s for d, s in zip(DOY_TICKS, FEB_DATES)})
style_axis(xb)
xb.axis_line_color = None
xb.major_tick_line_color = None
xb.minor_tick_line_color = None
xb.major_tick_out = 0
xb.minor_tick_out = 0
xb.major_label_standoff = 9
p6.add_layout(xb, "below")
for txt, off, st in [("Feb", -7, 7), ("2000", -60, 9)]:
    p6.add_layout(Title(text=txt, align="left", offset=off, standoff=st, text_font=FONT,
                        text_font_size="21px", text_font_style="normal", text_color="black"),
                  "below")

panels = [p1, p2, p3, p4, p5, p6]
for p in panels[:-1]:
    p.styles = {"margin-bottom": f"-{OV}px"}

layout = column(*panels, spacing=0)
open("out.html", "w").write(file_html(layout, INLINE, "ACE / SOHO event 2000 Feb 8-15"))
